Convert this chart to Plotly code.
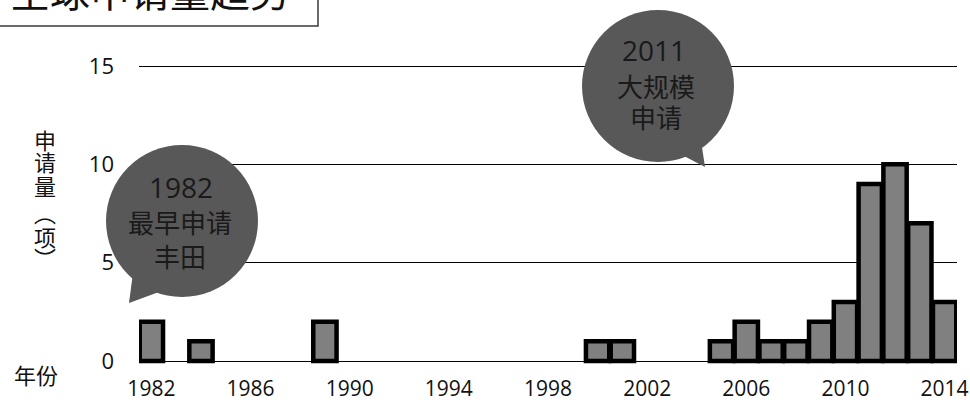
import plotly.graph_objects as go

# ---- data ----
years = [1982, 1984, 1989, 2000, 2001, 2005, 2006, 2007, 2008, 2009, 2010, 2011, 2012, 2013, 2014]
counts = [2, 1, 2, 1, 1, 1, 2, 1, 1, 2, 3, 9, 10, 7, 3]
x_ticks = [1982, 1986, 1990, 1994, 1998, 2002, 2006, 2010, 2014]
y_ticks = [0, 5, 10, 15]
title_text = "全球申请量趋势"
y_title_chars = ["申", "请", "量", "︵", "项", "︶"]
x_title_text = "年份"
bubble1_lines = ["1982", "最早申请", "丰田"]
bubble2_lines = ["2011", "大规模", "申请"]

# ---- layout geometry (pixels) ----
FW, FH = 970, 402
L, R, T, B = 139, 957, 60, 367
W, H = R - L, B - T

def px(x):
    return (x - L) / W

def py(y):
    return (B - y) / H

FONT = "Open Sans, Noto Sans CJK SC, sans-serif"
BUBBLE = "#585858"
TXT = "#1a1a1a"

fig = go.Figure()
fig.add_trace(go.Bar(
    x=years, y=counts,
    marker=dict(color="#808080", line=dict(color="#000000", width=4.5)),
    hoverinfo="x+y",
))

shapes = []
annotations = []

# title box
shapes.append(dict(type="rect", xref="paper", yref="paper",
                   x0=px(-3), x1=px(318), y0=py(26), y1=py(-10),
                   line=dict(color="#3a3a3a", width=1.5), fillcolor="rgba(0,0,0,0)",
                   layer="above"))
annotations.append(dict(text=title_text, xref="paper", yref="paper",
                        x=px(8), y=py(-8), xanchor="left", yanchor="middle",
                        showarrow=False, font=dict(family=FONT, size=40, color="#111111")))

# speech bubbles
def bubble(cx, cy, r, tail):
    shapes.append(dict(type="circle", xref="paper", yref="paper",
                       x0=px(cx - r), x1=px(cx + r), y0=py(cy + r), y1=py(cy - r),
                       fillcolor=BUBBLE, line=dict(width=0), layer="above"))
    path = "M " + " L ".join(f"{px(a):.5f},{py(b):.5f}" for a, b in tail) + " Z"
    shapes.append(dict(type="path", xref="paper", yref="paper", path=path,
                       fillcolor=BUBBLE, line=dict(width=0), layer="above"))

bubble(182, 221, 76, [(129, 303), (135, 258), (178, 285)])
bubble(658, 86, 76, [(705, 167), (663, 145), (699, 127)])

def text_line(t, x, y, size):
    annotations.append(dict(text=t, xref="paper", yref="paper", x=px(x), y=py(y),
                            xanchor="center", yanchor="middle", showarrow=False,
                            font=dict(family=FONT, size=size, color=TXT)))

text_line(bubble1_lines[0], 181, 187, 28)
text_line(bubble1_lines[1], 180, 223, 26)
text_line(bubble1_lines[2], 180, 257, 26)
text_line(bubble2_lines[0], 654, 50, 28)
text_line(bubble2_lines[1], 656, 87, 26)
text_line(bubble2_lines[2], 656, 118, 26)

# vertical y-axis title, one glyph per line
ycent = [140, 162, 186, 213, 237, 258]
for ch, yc in zip(y_title_chars, ycent):
    annotations.append(dict(text=ch, xref="paper", yref="paper", x=px(45), y=py(yc),
                            xanchor="center", yanchor="middle", showarrow=False,
                            font=dict(family=FONT, size=22, color="#111111")))

# x title
annotations.append(dict(text=x_title_text, xref="paper", yref="paper", x=px(36), y=py(375),
                        xanchor="center", yanchor="middle", showarrow=False,
                        font=dict(family=FONT, size=22, color="#111111")))

fig.update_layout(
    width=FW, height=FH,
    margin=dict(l=L, r=FW - R, t=T, b=FH - B, autoexpand=False),
    paper_bgcolor="white", plot_bgcolor="white",
    bargap=0.06, showlegend=False,
    shapes=shapes, annotations=annotations,
    font=dict(family=FONT, color="#111111"),
    xaxis=dict(range=[1981.5, 2014.5], tickmode="array", tickvals=x_ticks,
               ticktext=[str(v) for v in x_ticks], showgrid=False, zeroline=False,
               showline=False, ticks="", tickfont=dict(size=21, color="#111111"),
               ticklabelstandoff=7, automargin=False, ticklabeloverflow="allow"),
    yaxis=dict(range=[-0.305, 15.305], tickmode="array", tickvals=y_ticks,
               showgrid=True, gridcolor="#000000", gridwidth=1,
               zeroline=True, zerolinecolor="#000000", zerolinewidth=1,
               showline=False, ticks="", tickfont=dict(size=22, color="#111111"),
               ticklabelstandoff=24, automargin=False),
)

fig.write_html("out.html")
